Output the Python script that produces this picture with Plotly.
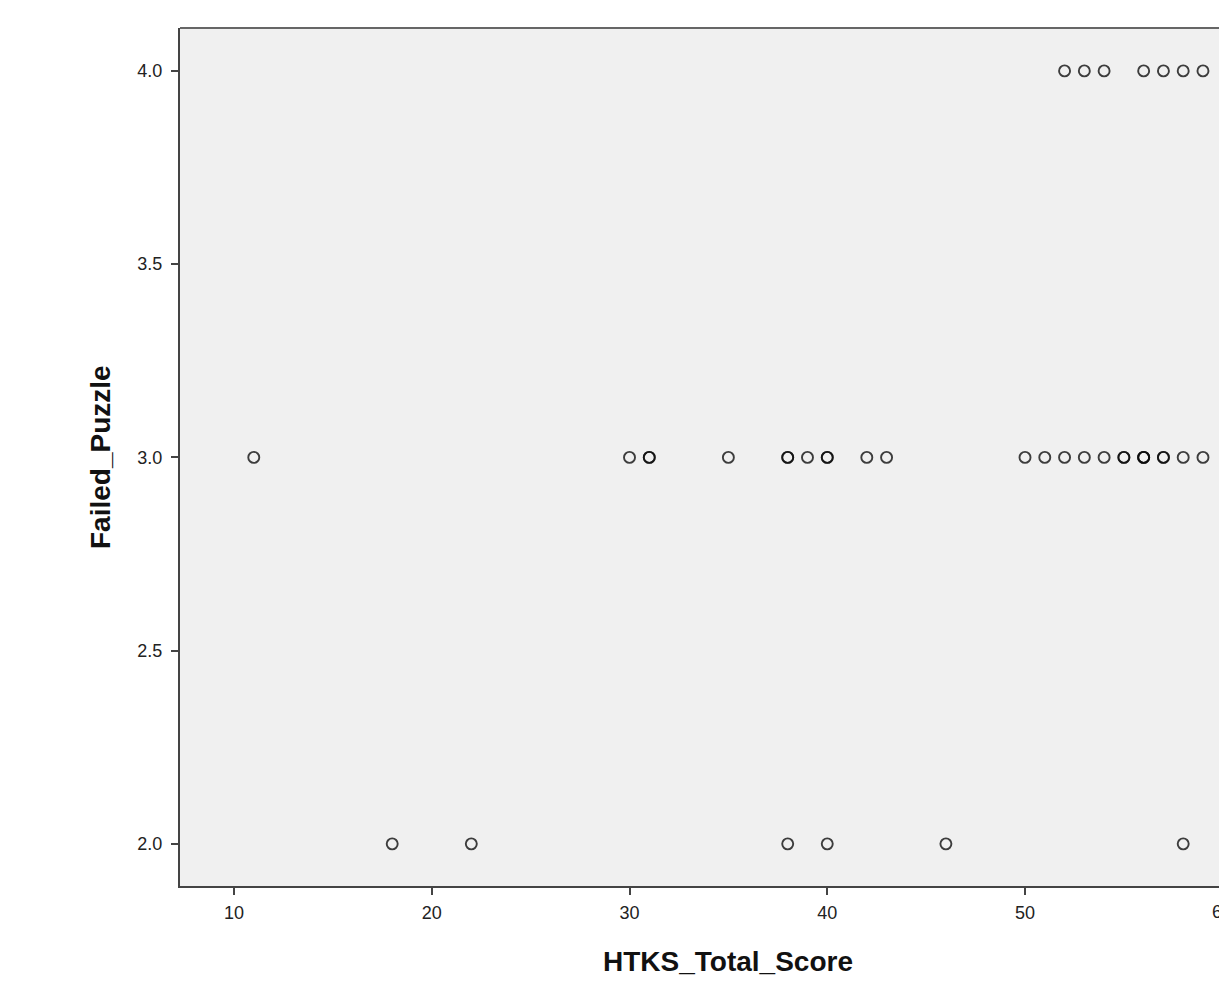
import plotly.graph_objects as go

# HTKS_Total_Score (x) and Failed_Puzzle (y), one entry per case
htks_total_score = [
    # Failed_Puzzle = 4
    52, 53, 54, 56, 57, 58, 59,
    # Failed_Puzzle = 3
    11, 30, 31, 31, 35, 38, 38, 39, 40, 40, 42, 43,
    50, 51, 52, 53, 54, 55, 55, 56, 56, 56, 57, 57, 58, 59,
    # Failed_Puzzle = 2
    18, 22, 38, 40, 46, 58,
]
failed_puzzle = (
    [4] * 7
    + [3] * 26
    + [2] * 6
)

x_tick_vals = [10, 20, 30, 40, 50]
y_tick_vals = [2.0, 2.5, 3.0, 3.5, 4.0]
y_tick_text = ["2.0", "2.5", "3.0", "3.5", "4.0"]

FONT = "Liberation Sans, Arial, sans-serif"

W, H = 1219, 982
ML, MT, MB = 180, 28, 96
PW, PH = W - ML, H - MT - MB

fig = go.Figure()
fig.add_trace(go.Scatter(
    x=htks_total_score,
    y=failed_puzzle,
    mode="markers",
    marker=dict(
        symbol="circle-open",
        size=11,
        color="rgba(10,10,10,0.78)",
        line=dict(width=1.9, color="rgba(10,10,10,0.78)"),
    ),
    hoverinfo="x+y",
    showlegend=False,
))

fig.update_layout(
    width=W,
    height=H,
    margin=dict(l=ML, r=0, t=MT, b=MB),
    paper_bgcolor="white",
    plot_bgcolor="#F0F0F0",
    font=dict(family=FONT, size=18, color="#222222"),
    xaxis=dict(
        range=[7.269, 59.81],
        tickvals=x_tick_vals,
        ticks="outside",
        ticklen=7,
        tickwidth=2,
        tickcolor="#444444",
        ticklabelstandoff=2,
        showline=True,
        linewidth=2,
        linecolor="#444444",
        showgrid=False,
        zeroline=False,
        tickfont=dict(size=18, color="#222222"),
    ),
    yaxis=dict(
        range=[1.891, 4.111],
        tickvals=y_tick_vals,
        ticktext=y_tick_text,
        ticks="outside",
        ticklen=7,
        tickwidth=2,
        tickcolor="#444444",
        ticklabelstandoff=5,
        showline=True,
        linewidth=2,
        linecolor="#444444",
        showgrid=False,
        zeroline=False,
        tickfont=dict(size=18, color="#222222"),
    ),
    shapes=[
        dict(type="line", xref="paper", yref="paper", x0=0, x1=1, y0=1, y1=1,
             line=dict(color="#666666", width=2)),
    ],
    annotations=[
        dict(text="<b>HTKS_Total_Score</b>", xref="paper", yref="paper",
             x=(728 - ML) / PW, y=-(962 - (MT + PH)) / PH, xanchor="center", yanchor="middle",
             showarrow=False, font=dict(family=FONT, size=28, color="#111111")),
        dict(text="<b>Failed_Puzzle</b>", xref="paper", yref="paper",
             x=(100 - ML) / PW, y=0.5, xanchor="center", yanchor="middle",
             textangle=-90, showarrow=False, font=dict(family=FONT, size=28, color="#111111")),
        dict(text="60", xref="paper", yref="paper",
             x=(1222 - ML) / PW, y=-(912 - (MT + PH)) / PH, xanchor="center", yanchor="middle",
             showarrow=False, font=dict(family=FONT, size=18, color="#222222")),
    ],
)

fig.write_html(
    "out.html",
    config={"displayModeBar": False},
    post_script="document.body.style.margin='0';",
)
